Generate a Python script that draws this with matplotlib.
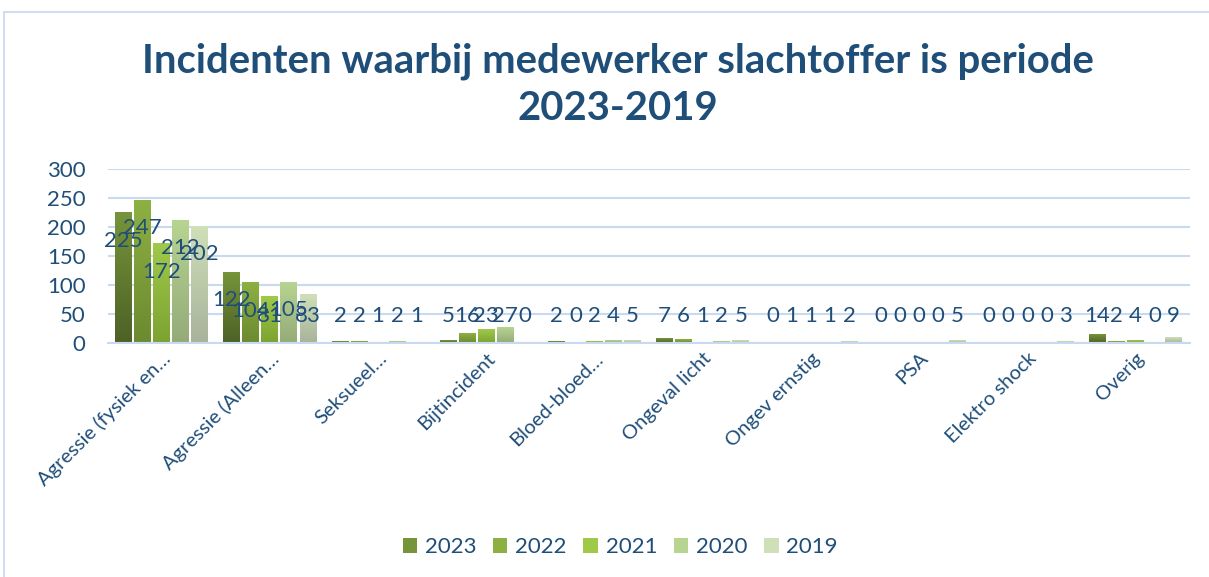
import numpy as np
import matplotlib
matplotlib.use('Agg')
import matplotlib.pyplot as plt
from matplotlib.colors import LinearSegmentedColormap
from matplotlib.patches import Patch, Rectangle

plt.rcParams['font.family'] = ['Lato', 'DejaVu Sans']

categories = ['Agressie (fysiek en\u2026', 'Agressie (Alleen\u2026', 'Seksueel\u2026', 'Bijtincident',
              'Bloed-bloed\u2026', 'Ongeval licht', 'Ongev ernstig', 'PSA', 'Elektro shock', 'Overig']
years = ['2023', '2022', '2021', '2020', '2019']
v2023 = [225, 122, 2, 5, 2, 7, 0, 0, 0, 14]
v2022 = [247, 104, 2, 16, 0, 6, 1, 0, 0, 2]
v2021 = [172, 81, 1, 23, 2, 1, 1, 0, 0, 4]
v2020 = [212, 105, 2, 27, 4, 2, 1, 0, 0, 0]
v2019 = [202, 83, 1, 0, 5, 5, 2, 5, 3, 9]
series = [v2023, v2022, v2021, v2020, v2019]

# (bottom, top) colours of the gradient fill per year
grad = [('#4d6126', '#76943a'),
        ('#6c8a2f', '#8db043'),
        ('#7ca332', '#a0c94a'),
        ('#94ab78', '#b7d491'),
        ('#a8b39b', '#cfdfb8')]
navy = '#1f4e79'
gridc = '#c9daf0'

fig = plt.figure(figsize=(12.09, 5.77), dpi=100)
ax = fig.add_axes([0.089, 0.406, 0.895, 0.301])

x = np.arange(len(categories))
pitch = 0.176
bw = 0.157
for i, vals in enumerate(series):
    pos = x + (i - 2) * pitch
    bars = ax.bar(pos, vals, width=bw, color=grad[i][1], zorder=2)
    cmap = LinearSegmentedColormap.from_list('g%d' % i, [grad[i][0], grad[i][1]])
    for b, v in zip(bars, vals):
        if v <= 0:
            continue
        b.set_visible(False)
        ax.imshow(np.linspace(0, 1, 64).reshape(-1, 1), cmap=cmap, origin='lower',
                  extent=[b.get_x(), b.get_x() + b.get_width(), 0, v],
                  aspect='auto', zorder=2, interpolation='bilinear')
    for p, v in zip(pos, vals):
        ax.text(p, max(v - 49, 47), str(v), ha='center', va='center',
                fontsize=16, color=navy, zorder=4)

ax.set_xlim(-0.5, len(categories) - 0.5)
ax.set_ylim(0, 300)
ax.set_yticks(range(0, 301, 50))
ax.yaxis.grid(True, color=gridc, linewidth=1.5, zorder=0)
ax.set_axisbelow(True)
for s in ['top', 'right', 'left']:
    ax.spines[s].set_visible(False)
ax.spines['bottom'].set_color(gridc)
ax.spines['bottom'].set_linewidth(1.5)
ax.tick_params(axis='both', length=0, labelcolor=navy)
ax.tick_params(axis='y', pad=16, labelsize=16)
ax.set_xticks(x)
ax.set_xticklabels(categories, rotation=45, ha='right', va='top', rotation_mode='anchor')
ax.tick_params(axis='x', pad=5, labelsize=14.5)

fig.text(0.511, 1 - 61 / 577, 'Incidenten waarbij medewerker slachtoffer is periode',
         ha='center', va='center', fontsize=28.8, fontweight='bold', color=navy)
fig.text(0.511, 1 - 108 / 577, '2023-2019',
         ha='center', va='center', fontsize=28.8, fontweight='bold', color=navy)

handles = [Patch(facecolor=grad[i][1], edgecolor='none') for i in range(5)]
fig.legend(handles, years, loc='center', bbox_to_anchor=(0.513, 1 - 547 / 577), ncol=5,
           frameon=False, fontsize=16, labelcolor=navy, handlelength=0.65, handleheight=0.65,
           handletextpad=0.35, columnspacing=0.75)

fig.patches.append(Rectangle((4 / 1209, -0.1), 1.2, 1.1 - 12 / 577, transform=fig.transFigure,
                             fill=False, edgecolor='#d0dff0', linewidth=1.5))

fig.savefig('out.png', dpi=100)
